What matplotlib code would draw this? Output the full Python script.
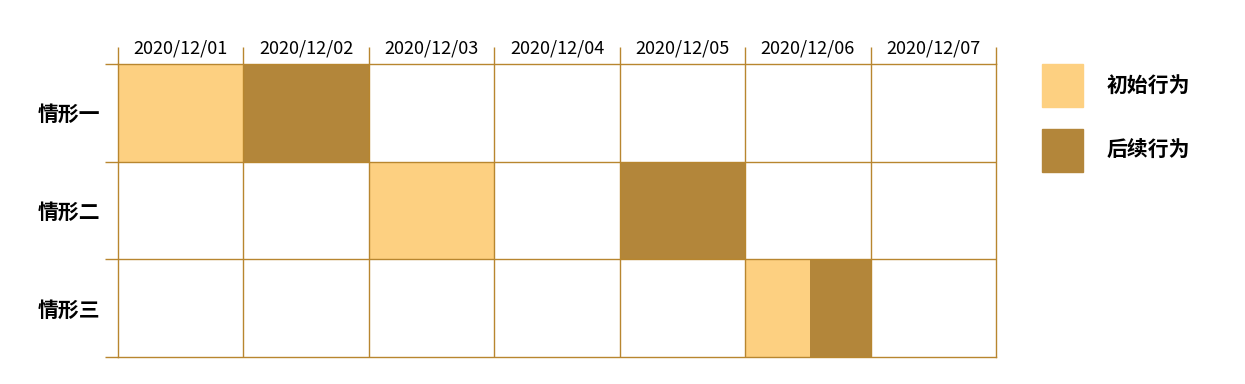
import matplotlib.pyplot as plt
import numpy as np
from matplotlib.patches import Patch

plt.rcParams['font.family'] = ['Noto Sans CJK SC', 'DejaVu Sans']

dates = ['2020/12/01', '2020/12/02', '2020/12/03', '2020/12/04',
         '2020/12/05', '2020/12/06', '2020/12/07']
cases = ['情形一', '情形二', '情形三']
init_start = [0, 2, 5]
init_len = [1, 1, 0.52]
post_start = [1, 4, 5.52]
post_len = [1, 1, 0.48]

c_init = '#FDD081'
c_post = '#B3863A'
c_line = '#B8862F'

fig = plt.figure(figsize=(12.45, 3.84), dpi=100)
ax = fig.add_axes([118/1245, 1-357/384, (996-118)/1245, (357-64)/384])

y = np.arange(len(cases))
ax.barh(y, init_len, left=init_start, height=1, align='edge', color=c_init, linewidth=0, zorder=1)
ax.barh(y, post_len, left=post_start, height=1, align='edge', color=c_post, linewidth=0, zorder=1)

ax.set_xlim(0, len(dates))
ax.set_ylim(len(cases), 0)

# grid lines
for x in range(1, len(dates)):
    ax.axvline(x, color=c_line, lw=1, zorder=2)
for yy in range(1, len(cases)):
    ax.axhline(yy, color=c_line, lw=1, zorder=2)

for s in ax.spines.values():
    s.set_color(c_line)
    s.set_linewidth(1)

# ticks: major on boundaries (marks only), minor at centers (labels)
ax.xaxis.tick_top()
ax.set_xticks(np.arange(len(dates) + 1))
ax.set_xticklabels([])
ax.set_xticks(np.arange(len(dates)) + 0.5, minor=True)
ax.set_xticklabels(dates, minor=True, fontsize=13)
ax.tick_params(axis='x', which='major', length=12, color=c_line, width=1, top=True, bottom=False)
ax.tick_params(axis='x', which='minor', length=0, pad=5, top=True, bottom=False)

ax.set_yticks(np.arange(len(cases) + 1))
ax.set_yticklabels([])
ax.set_yticks(y + 0.5, minor=True)
ax.set_yticklabels(cases, minor=True, fontsize=15, fontweight='bold')
ax.tick_params(axis='y', which='major', length=9.5, color=c_line, width=1)
ax.tick_params(axis='y', which='minor', length=0, pad=13)

handles = [Patch(color=c_init, label='初始行为'), Patch(color=c_post, label='后续行为')]
fig.legend(handles=handles, loc='upper left', bbox_to_anchor=(1023/1245, 1-45/384),
           frameon=False, prop={'size': 15, 'weight': 'bold'},
           handlelength=2.0, handleheight=2.8, labelspacing=1.05, handletextpad=1.1)

fig.savefig('out.png', dpi=100)
